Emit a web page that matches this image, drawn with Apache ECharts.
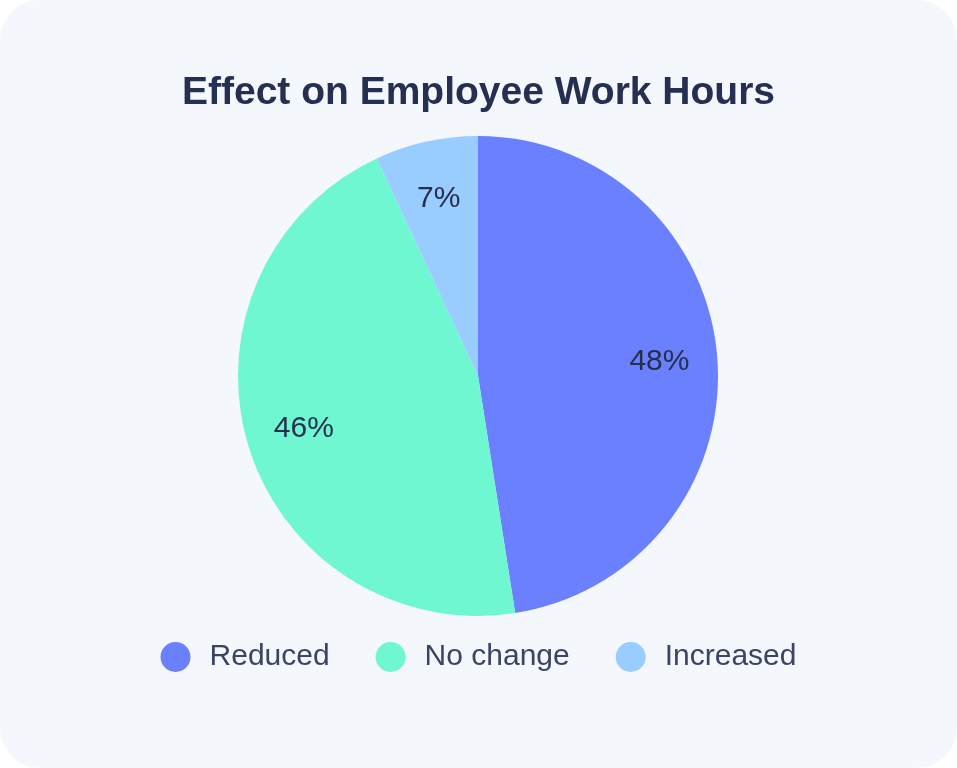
<!DOCTYPE html>
<html>
<head>
<meta charset="utf-8">
<script src="https://cdn.jsdelivr.net/npm/echarts@6/dist/echarts.min.js"></script>
<style>
  html, body { margin: 0; padding: 0; background: #ffffff; }
  #card {
    position: absolute; left: 0; top: 0; width: 957px; height: 768px;
    background: #f4f7fb; border-radius: 40px; overflow: hidden;
  }
  #chart { width: 957px; height: 768px; }
</style>
</head>
<body>
<div id="card"><div id="chart"></div></div>
<script>
const categories = ['Reduced', 'No change', 'Increased']
const shares = [48, 46, 7]
const colors = ['#6a80ff', '#6ff7d2', '#99ccff']

const dom = echarts.init(document.getElementById('chart'))

const pieData = categories.map((name, i) => ({
  name: name,
  value: shares[i],
  itemStyle: { color: colors[i] }
}))

const option = {
  backgroundColor: 'transparent',
  title: {
    text: 'Effect on Employee Work Hours',
    left: 'center',
    top: 69,
    textStyle: {
      fontFamily: 'Liberation Sans, Arial, sans-serif',
      fontSize: 39,
      fontWeight: 'bold',
      color: '#252f52'
    }
  },
  legend: {
    bottom: 91,
    left: 'center',
    icon: 'circle',
    itemWidth: 30,
    itemHeight: 30,
    itemGap: 46,
    textStyle: {
      fontFamily: 'Liberation Sans, Arial, sans-serif',
      fontSize: 30,
      color: '#3a4466',
      padding: [0, 0, 0, 14]
    },
    data: categories
  },
  series: [
    {
      type: 'pie',
      center: [478, 376],
      radius: [0, 240],
      startAngle: 90,
      clockwise: true,
      label: { show: false },
      labelLine: { show: false },
      emphasis: { disabled: true },
      data: pieData
    },
    {
      // transparent ring only used to push the labels outward
      type: 'pie',
      center: [478, 376],
      radius: [118, 240],
      startAngle: 90,
      clockwise: true,
      silent: true,
      itemStyle: { color: 'rgba(0,0,0,0)' },
      label: {
        show: true,
        position: 'inside',
        formatter: '{c}%',
        fontFamily: 'Liberation Sans, Arial, sans-serif',
        fontSize: 30,
        color: '#262f4e'
      },
      labelLine: { show: false },
      emphasis: { disabled: true },
      data: categories.map((name, i) => ({ name: name, value: shares[i] }))
    }
  ]
}

dom.setOption(option)
</script>
</body>
</html>
